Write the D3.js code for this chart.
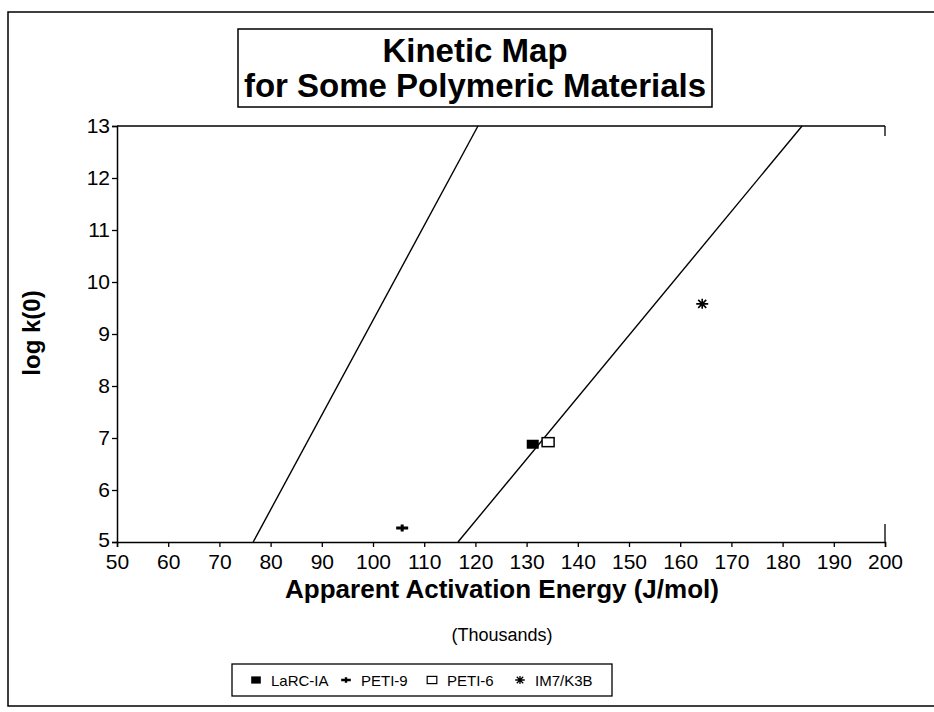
<!DOCTYPE html>
<html>
<head>
<meta charset="utf-8">
<script src="https://cdn.jsdelivr.net/npm/d3@7"></script>
<style>
  body { margin: 0; background: #fff; }
  svg { display: block; font-family: "Liberation Sans", Arial, sans-serif; }
</style>
</head>
<body>
<svg id="chart"></svg>
<script>
// chart values
var xTicks = [50, 60, 70, 80, 90, 100, 110, 120, 130, 140, 150, 160, 170, 180, 190, 200];
var yTicks = [5, 6, 7, 8, 9, 10, 11, 12, 13];
var titleLines = ['Kinetic Map', 'for Some Polymeric Materials'];

// boundary lines of the kinetic map (energy in kJ/mol, log k0)
var lineLow = [{e: 76.6, k: 5}, {e: 120.5, k: 13}];
var lineHigh = [{e: 116.6, k: 5}, {e: 183.8, k: 13}];

var materials = ['LaRC-IA', 'PETI-9', 'PETI-6', 'IM7/K3B'];
var energies = [131.2, 105.7, 134.2, 164.3];
var logK0 = [6.88, 5.27, 6.92, 9.58];
var markers = ['filledSquare', 'plus', 'openSquare', 'asterisk'];

var W = 934, H = 712;
var svg = d3.select('#chart').attr('width', W).attr('height', H);

var plot = {left: 117, top: 126, right: 885, bottom: 542};

var xScale = d3.scaleLinear().domain([50, 200]).range([plot.left, plot.right]);
var yScale = d3.scaleLinear().domain([5, 13]).range([plot.bottom, plot.top]);

// outer frame of the page (right side runs off the scan)
svg.append('rect')
    .attr('x', 8).attr('y', 12)
    .attr('width', W + 10).attr('height', 694)
    .attr('fill', 'none').attr('stroke', '#000').attr('stroke-width', 1.5);

// title box
svg.append('rect')
    .attr('x', 238).attr('y', 29)
    .attr('width', 474).attr('height', 78)
    .attr('fill', 'none').attr('stroke', '#000').attr('stroke-width', 1.5);

svg.selectAll('.title')
    .data(titleLines)
    .enter()
    .append('text')
    .attr('class', 'title')
    .attr('x', 475)
    .attr('y', function (d, i) { return 62 + i * 35; })
    .attr('text-anchor', 'middle')
    .attr('font-size', 33)
    .attr('font-weight', 'bold')
    .text(function (d) { return d; });

// axes
var xAxis = d3.axisBottom(xScale).tickValues(xTicks).tickSize(5).tickPadding(4).tickFormat(d3.format('d'));
var yAxis = d3.axisLeft(yScale).tickValues(yTicks).tickSize(5).tickPadding(2).tickFormat(d3.format('d'));

var gx = svg.append('g')
    .attr('transform', 'translate(0,' + plot.bottom + ')')
    .call(xAxis);
var gy = svg.append('g')
    .attr('transform', 'translate(' + plot.left + ',0)')
    .call(yAxis);

[gx, gy].forEach(function (g) {
    g.select('.domain').attr('stroke', '#000').attr('stroke-width', 1.5);
    g.selectAll('.tick line').attr('stroke', '#000').attr('stroke-width', 1.3);
    g.selectAll('.tick text')
        .attr('fill', '#000')
        .attr('font-size', 21)
        .attr('font-family', '"Liberation Sans", Arial, sans-serif');
});
gx.selectAll('.tick text').attr('dy', '0.85em');
gy.selectAll('.tick text').attr('dy', '0.32em');
// the lowest y label sits a touch higher so it clears the "50"
gy.selectAll('.tick text').filter(function (d) { return d == 5; }).attr('dy', '0.2em');

// top edge and short right stubs of the plot frame
svg.append('line')
    .attr('x1', plot.left).attr('x2', plot.right)
    .attr('y1', plot.top).attr('y2', plot.top)
    .attr('stroke', '#000').attr('stroke-width', 1.5);
svg.append('line')
    .attr('x1', plot.right).attr('x2', plot.right)
    .attr('y1', plot.top).attr('y2', plot.top + 10)
    .attr('stroke', '#000').attr('stroke-width', 1.3);
svg.append('line')
    .attr('x1', plot.right).attr('x2', plot.right)
    .attr('y1', plot.bottom - 18).attr('y2', plot.bottom)
    .attr('stroke', '#000').attr('stroke-width', 1.3);

// kinetic map boundary lines
var lineGen = d3.line()
    .x(function (d) { return xScale(d.e); })
    .y(function (d) { return yScale(d.k); });

svg.selectAll('.kline')
    .data([lineLow, lineHigh])
    .enter()
    .append('path')
    .attr('class', 'kline')
    .attr('d', lineGen)
    .attr('fill', 'none')
    .attr('stroke', '#000')
    .attr('stroke-width', 1.4);

// marker drawing
function drawMarker(g, type) {
    if (type == 'filledSquare') {
        g.append('rect').attr('x', -6).attr('y', -4.5).attr('width', 12).attr('height', 9)
            .attr('fill', '#000');
    } else if (type == 'openSquare') {
        g.append('rect').attr('x', -6).attr('y', -4.5).attr('width', 12).attr('height', 9)
            .attr('fill', '#fff').attr('stroke', '#000').attr('stroke-width', 1.5);
    } else if (type == 'plus') {
        g.append('path').attr('d', 'M-6,0H6M0,-3.5V3.5')
            .attr('stroke', '#000').attr('stroke-width', 3);
    } else if (type == 'asterisk') {
        g.append('path').attr('d', 'M-6,0H6M-4,-4L4,4M-4,4L4,-4M0,-5V5')
            .attr('stroke', '#000').attr('stroke-width', 1.6);
    }
}

var pointData = materials.map(function (m, i) {
    return {name: m, e: energies[i], k: logK0[i], marker: markers[i]};
});

svg.selectAll('.pt')
    .data(pointData)
    .enter()
    .append('g')
    .attr('class', 'pt')
    .attr('transform', function (d) {
        return 'translate(' + xScale(d.e) + ',' + yScale(d.k) + ')';
    })
    .each(function (d) { drawMarker(d3.select(this), d.marker); });

// axis titles
svg.append('text')
    .attr('x', 502).attr('y', 598)
    .attr('text-anchor', 'middle')
    .attr('font-size', 26)
    .attr('font-weight', 'bold')
    .text('Apparent Activation Energy (J/mol)');

svg.append('text')
    .attr('x', 502).attr('y', 641)
    .attr('text-anchor', 'middle')
    .attr('font-size', 18)
    .text('(Thousands)');

svg.append('text')
    .attr('transform', 'translate(40,333) rotate(-90)')
    .attr('text-anchor', 'middle')
    .attr('font-size', 24)
    .attr('font-weight', 'bold')
    .text('log k(0)');

// legend
var legend = svg.append('g');
legend.append('rect')
    .attr('x', 232).attr('y', 664)
    .attr('width', 380).attr('height', 32)
    .attr('fill', 'none').attr('stroke', '#000').attr('stroke-width', 1.3);

var legendX = [256, 346, 432, 520];
var legendItems = legend.selectAll('.leg')
    .data(pointData)
    .enter()
    .append('g')
    .attr('class', 'leg')
    .attr('transform', function (d, i) { return 'translate(' + legendX[i] + ',680)'; });

legendItems.each(function (d) {
    var g = d3.select(this).append('g').attr('transform', 'scale(0.8)');
    drawMarker(g, d.marker);
});
legendItems.append('text')
    .attr('x', 15)
    .attr('y', 5.5)
    .attr('font-size', 15)
    .text(function (d) { return d.name; });
</script>
</body>
</html>
